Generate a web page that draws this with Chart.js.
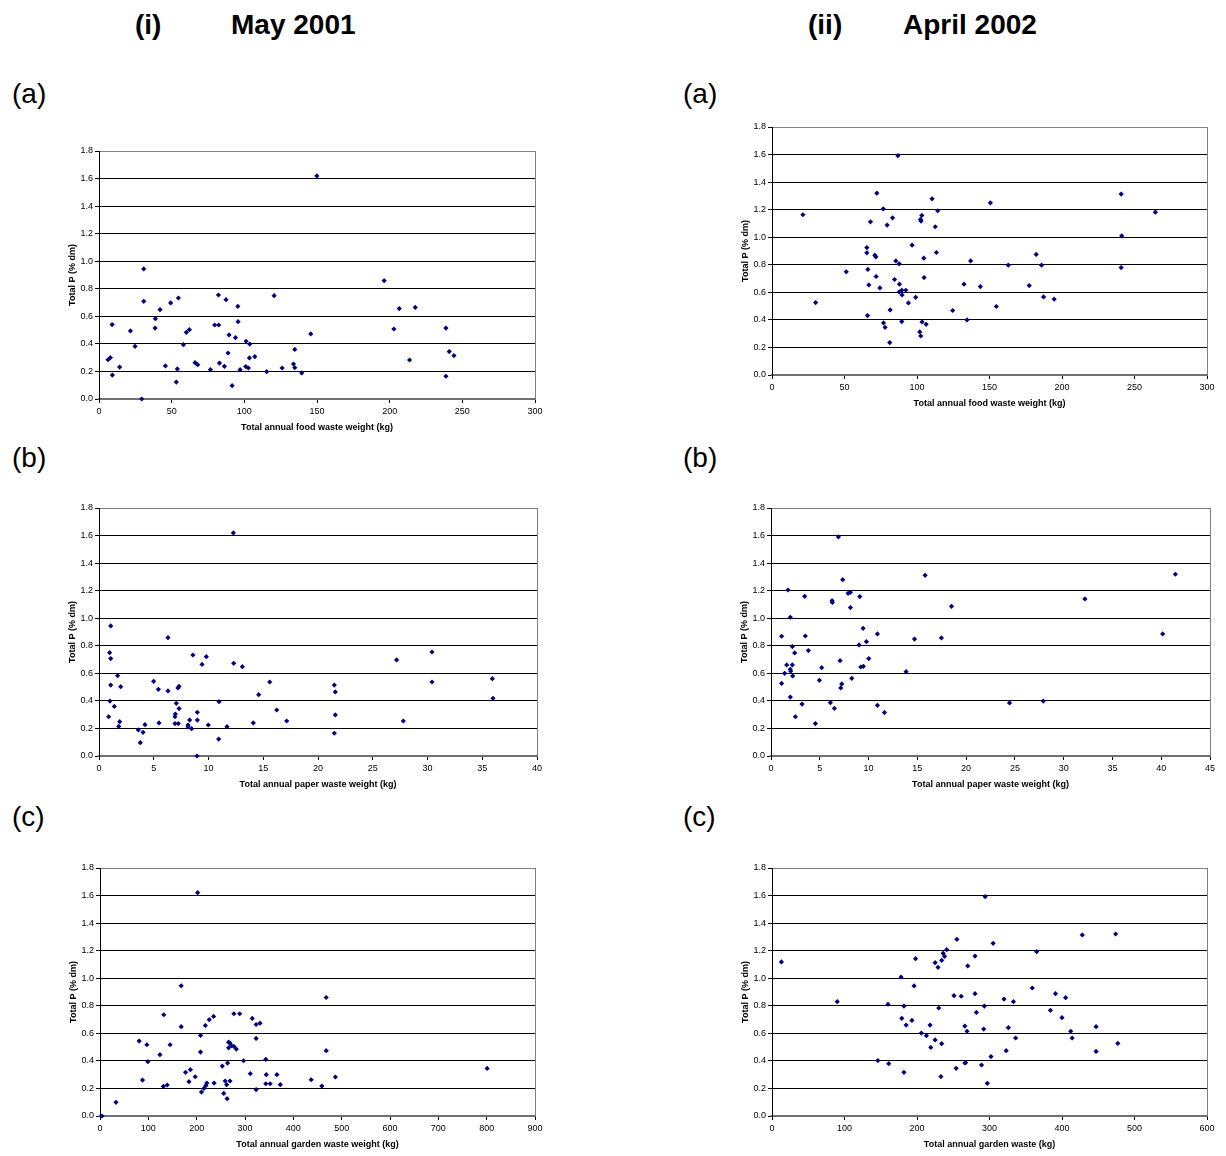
<!DOCTYPE html>
<html>
<head>
<meta charset="utf-8">
<script src="https://cdn.jsdelivr.net/npm/chart.js@4"></script>
<style>
body{margin:0;background:#fff;width:1226px;height:1156px;position:relative;overflow:hidden;font-family:Arial,"Liberation Sans",sans-serif;}
.t{position:absolute;line-height:1;white-space:nowrap;color:#000}
.hd{font-weight:bold;font-size:28px}
.lb{font-size:28px}
canvas{position:absolute}
</style>
</head>
<body>
<div class="t hd" style="left:135px;top:11px">(i)</div>
<div class="t hd" style="left:231px;top:11px">May 2001</div>
<div class="t hd" style="left:808px;top:11px">(ii)</div>
<div class="t hd" style="left:903px;top:11px">April 2002</div>

<div class="t lb" style="left:12px;top:80px">(a)</div>
<div class="t lb" style="left:683px;top:80px">(a)</div>
<div class="t lb" style="left:12px;top:444px">(b)</div>
<div class="t lb" style="left:683px;top:444px">(b)</div>
<div class="t lb" style="left:12px;top:803px">(c)</div>
<div class="t lb" style="left:683px;top:803px">(c)</div>

<canvas id="c1"></canvas>
<canvas id="c2"></canvas>
<canvas id="c3"></canvas>
<canvas id="c4"></canvas>
<canvas id="c5"></canvas>
<canvas id="c6"></canvas>

<script>
// (i)(a) May 2001 - food waste
const food2001X = [6.2,7.8,9.0,9.2,14.2,21.6,24.8,29.4,30.8,30.8,38.8,38.6,42.0,45.7,49.3,54.6,53.9,53.2,58.1,60.1,62.2,66.1,67.9,76.7,79.6,82.4,82.2,82.9,86.3,87.4,88.8,89.5,91.6,93.9,95.5,95.7,97.1,101.2,101.0,102.8,103.5,103.7,107.2,115.4,120.5,126.0,133.8,134.7,134.7,139.5,145.7,149.9,196.2,202.9,206.6,213.7,217.6,238.7,238.7,241.0,244.2];
const food2001P = [0.285,0.30,0.54,0.174,0.232,0.494,0.382,0.0,0.944,0.709,0.583,0.515,0.648,0.24,0.697,0.733,0.218,0.123,0.394,0.484,0.503,0.264,0.249,0.213,0.537,0.537,0.755,0.261,0.237,0.721,0.334,0.465,0.097,0.445,0.673,0.561,0.213,0.419,0.235,0.225,0.298,0.399,0.307,0.198,0.75,0.225,0.254,0.36,0.227,0.189,0.472,1.619,0.859,0.508,0.656,0.283,0.665,0.515,0.165,0.344,0.315];

// (ii)(a) April 2002 - food waste
const food2002X = [21.3,30.1,51.2,65.4,65.4,66.1,65.9,66.8,67.9,70.9,71.6,72.3,71.8,74.4,76.7,76.9,78.0,79.4,81.5,81.2,83.1,84.5,85.4,86.8,87.7,87.9,87.7,89.5,89.7,89.5,92.3,94.1,96.6,99.1,101.9,102.6,102.4,102.8,103.3,103.5,104.7,104.9,106.3,110.4,112.6,113.4,114.3,124.6,132.4,134.5,137.0,143.7,150.6,154.7,162.9,177.4,182.2,185.9,187.3,194.6,240.8,241.2,240.8,264.4];
const food2002P = [1.163,0.526,0.749,0.925,0.887,0.766,0.431,0.654,1.112,0.87,0.858,1.32,0.715,0.632,1.206,0.378,0.346,1.088,0.472,0.235,1.141,0.693,0.828,1.592,0.807,0.659,0.603,0.615,0.581,0.388,0.615,0.523,0.942,0.564,0.313,0.283,1.129,1.117,1.158,0.385,0.848,0.707,0.368,1.279,1.076,0.889,1.192,0.468,0.659,0.4,0.828,0.642,1.25,0.497,0.797,0.649,0.875,0.797,0.567,0.55,1.313,1.01,0.78,1.182];

// (i)(b) May 2001 - paper waste
const paper2001X = [0.88,0.97,1.0,1.07,1.07,1.07,1.40,1.70,1.80,1.89,1.98,3.59,3.77,4.02,4.2,4.99,5.42,5.48,6.30,6.30,6.94,6.97,6.94,7.06,7.21,7.31,7.24,7.31,8.13,8.13,8.28,8.46,8.58,8.95,8.98,8.98,9.41,9.80,9.98,10.93,10.96,11.69,12.27,12.3,13.09,14.09,14.58,15.59,16.23,17.14,21.49,21.58,21.58,21.49,27.18,27.79,30.41,30.41,35.92,35.98];
const paper2001P = [0.285,0.75,0.399,0.944,0.707,0.515,0.36,0.583,0.215,0.249,0.503,0.189,0.097,0.172,0.227,0.542,0.484,0.24,0.859,0.472,0.285,0.305,0.235,0.382,0.494,0.506,0.235,0.344,0.225,0.213,0.261,0.198,0.733,0.0,0.317,0.261,0.665,0.721,0.225,0.123,0.394,0.213,1.619,0.673,0.648,0.24,0.445,0.537,0.334,0.254,0.515,0.465,0.298,0.165,0.697,0.254,0.755,0.537,0.561,0.419];

// (ii)(b) April 2002 - paper waste
const paper2002X = [1.09,1.09,1.40,1.61,1.74,1.98,1.98,2.02,1.98,2.19,2.19,2.22,2.43,2.50,3.18,3.45,3.52,3.83,4.55,4.96,5.20,6.09,6.26,6.29,6.50,6.91,7.08,7.15,7.25,7.35,7.90,8.14,8.14,8.28,9.03,9.10,9.20,9.47,9.44,9.78,10.02,10.91,10.91,11.63,13.85,14.71,15.80,17.47,18.5,24.45,27.91,32.18,40.15,41.45];
const paper2002P = [0.869,0.527,0.60,0.661,1.205,1.007,0.629,0.615,0.428,0.794,0.661,0.581,0.748,0.285,0.377,1.159,0.871,0.765,0.235,0.549,0.641,0.387,1.127,1.115,0.346,1.59,0.692,0.494,0.523,1.28,1.181,1.188,1.077,0.564,0.806,1.157,0.646,0.651,0.927,0.83,0.707,0.886,0.368,0.315,0.612,0.849,1.311,0.857,1.086,0.385,0.399,1.14,0.886,1.319];

// (i)(c) May 2001 - garden waste
const garden2001X = [4,33,81,88,97,99,124,131,132,139,145,168,168,177,184,187,197,202,208,208,210,215,218,219,221,226,235,236,253,256,259,262,263,264,266,266,269,269,272,277,277,282,289,297,311,315,323,323,323,331,343,344,343,352,366,373,437,459,468,468,487,801];
const garden2001P = [0,0.099,0.544,0.261,0.517,0.394,0.445,0.215,0.735,0.225,0.517,0.945,0.648,0.317,0.249,0.336,0.285,1.621,0.585,0.464,0.174,0.20,0.657,0.22,0.239,0.699,0.723,0.239,0.362,0.164,0.254,0.227,0.126,0.384,0.495,0.536,0.529,0.254,0.51,0.742,0.505,0.486,0.742,0.401,0.307,0.708,0.664,0.563,0.191,0.674,0.411,0.30,0.234,0.234,0.30,0.227,0.263,0.217,0.86,0.474,0.283,0.345];

// (ii)(c) April 2002 - garden waste
const garden2002X = [13,90,146,160,161,178,179,182,182,185,193,196,198,206,213,218,219,225,225,229,230,233,234,234,236,238,241,251,254,255,261,266,266,267,269,270,280,280,282,289,292,293,294,297,302,305,320,323,326,333,336,359,365,384,391,400,405,412,414,428,447,447,474,477];
const garden2002P = [1.118,0.83,0.402,0.811,0.38,1.009,0.709,0.798,0.317,0.66,0.694,0.944,1.142,0.602,0.583,0.66,0.498,1.113,0.552,1.079,0.784,0.286,0.525,1.13,1.181,1.159,1.207,0.873,0.346,1.282,0.869,0.653,0.385,0.387,0.615,1.089,1.161,0.888,0.752,0.37,0.631,0.798,1.592,0.237,0.431,1.253,0.849,0.474,0.641,0.83,0.566,0.929,1.193,0.767,0.888,0.714,0.859,0.615,0.566,1.314,0.648,0.469,1.321,0.527];

const yTicks = [0, 1.8, 0.2];   // min, max, step
const yTitle = "Total P (% dm)";

const Y_AXIS_W = 32, X_AXIS_H = 34, PAD_TOP = 8, PAD_RIGHT = 12;

Chart.defaults.font.family = 'Arial, "Liberation Sans", sans-serif';
Chart.defaults.color = '#000';

function makePanel(id, xs, ys, xMax, xStep, xTitle, box) {
  const cv = document.getElementById(id);
  const W = box.w + Y_AXIS_W + PAD_RIGHT, H = PAD_TOP + box.h + X_AXIS_H;
  cv.width = W; cv.height = H;
  cv.style.left = (box.x - Y_AXIS_W) + "px";
  cv.style.top = (box.y - PAD_TOP) + "px";
  cv.style.width = W + "px"; cv.style.height = H + "px";
  new Chart(cv, {
    type: "scatter",
    data: {
      datasets: [{
        data: xs.map((x, i) => ({x: x, y: ys[i]})),
        pointStyle: "rectRot",
        pointRadius: 2.6,
        backgroundColor: "#000080",
        borderColor: "#000080",
        borderWidth: 0,
        clip: false
      }]
    },
    options: {
      responsive: false,
      animation: false,
      layout: {padding: {top: PAD_TOP, right: PAD_RIGHT, left: 0, bottom: 0}},
      plugins: {legend: {display: false}, tooltip: {enabled: false}},
      scales: {
        x: {
          type: "linear", min: 0, max: xMax,
          ticks: {stepSize: xStep, autoSkip: false, maxRotation: 0, padding: 3, font: {size: 9}},
          grid: {
            color: c => (c.tick && c.tick.value === xMax) ? "#808080" : "rgba(0,0,0,0)",
            tickColor: "#000", tickLength: 4
          },
          border: {color: "#707070", width: 2},
          title: {display: true, text: xTitle, font: {size: 9, weight: "bold"}, padding: 0},
          afterFit: s => { s.height = X_AXIS_H; }
        },
        y: {
          min: yTicks[0], max: yTicks[1],
          ticks: {stepSize: yTicks[2], padding: 2, font: {size: 9}, callback: v => v.toFixed(1)},
          grid: {
            color: c => Math.abs(c.tick.value - yTicks[1]) < 1e-6 ? "#808080" : "#000",
            tickColor: "#000", tickLength: 4
          },
          border: {color: "#000"},
          title: {display: true, text: yTitle, font: {size: 9, weight: "bold"}, padding: 0},
          afterFit: s => { s.width = Y_AXIS_W; }
        }
      }
    }
  });
}

makePanel("c1", food2001X, food2001P, 300, 50, "Total annual food waste weight (kg)", {x: 99, y: 151, w: 436, h: 248});
makePanel("c2", food2002X, food2002P, 300, 50, "Total annual food waste weight (kg)", {x: 772, y: 127, w: 435, h: 248});
makePanel("c3", paper2001X, paper2001P, 40, 5, "Total annual paper waste weight (kg)", {x: 99, y: 508, w: 438, h: 248});
makePanel("c4", paper2002X, paper2002P, 45, 5, "Total annual paper waste weight (kg)", {x: 771, y: 508, w: 439, h: 248});
makePanel("c5", garden2001X, garden2001P, 900, 100, "Total annual garden waste weight (kg)", {x: 100, y: 868, w: 435, h: 248});
makePanel("c6", garden2002X, garden2002P, 600, 100, "Total annual garden waste (kg)", {x: 772, y: 868, w: 435, h: 248});
</script>
</body>
</html>
